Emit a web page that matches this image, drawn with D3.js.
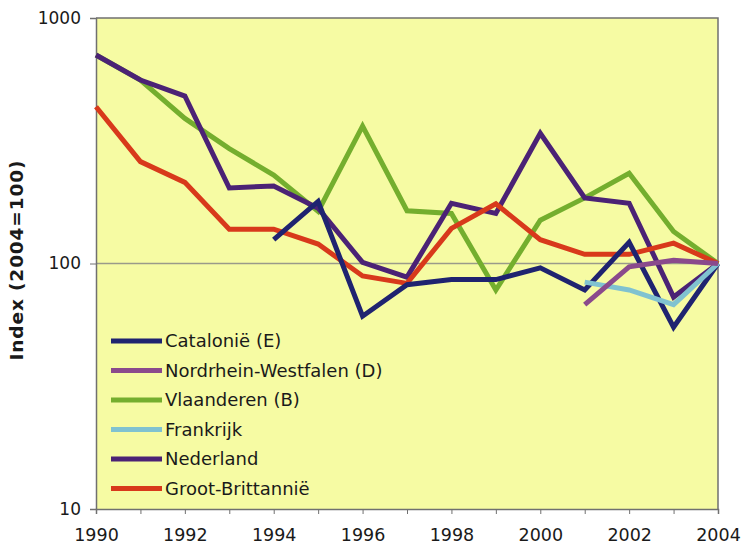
<!DOCTYPE html>
<html><head><meta charset="utf-8">
<script src="https://cdn.jsdelivr.net/npm/d3@7"></script>
<style>body{margin:0;background:#fff}svg{display:block}text{font-family:"DejaVu Sans",Verdana,sans-serif;fill:#1a1a1a}</style>
</head><body><svg id="c" width="747" height="545"></svg>
<script>
const years = [1990,1991,1992,1993,1994,1995,1996,1997,1998,1999,2000,2001,2002,2003,2004];
const xTickLabels = [1990,1992,1994,1996,1998,2000,2002,2004];
const yTickValues = [10,100,1000];
const catalonie = [null,null,null,null,125,179,61,82,86,86,96,78,122,55,100];
const nrw = [null,null,null,null,null,null,null,null,null,null,null,68,97,103,100];
const vlaanderen = [707,559,390,294,229,163,363,164,160,78,150,185,233,135,100];
const frankrijk = [null,null,null,null,null,null,null,null,null,null,null,84,78,68,100];
const nederland = [707,559,481,203,207,168,101,88,176,160,339,185,176,73,100];
const grootBrittannie = [435,260,214,138,138,120,89,83,139,175,125,109,109,121,100];
const seriesNames = ["Catalonië (E)","Nordrhein-Westfalen (D)","Vlaanderen (B)","Frankrijk","Nederland","Groot-Brittannië"];
const seriesColors = ["#1f2370","#8a4a8c","#74ae2e","#80c2d0","#4b2275","#d8391b"];
const seriesData = [catalonie,nrw,vlaanderen,frankrijk,nederland,grootBrittannie];
const drawOrder = [2,4,5,0,3,1];

const svg = d3.select("#c");
const L=96,R=718,T=18,B=509;
const x = d3.scaleLinear().domain([1990,2004]).range([L,R]);
const y = d3.scaleLog().domain([10,1000]).range([B,T]);

svg.append("rect").attr("x",L).attr("y",T).attr("width",R-L).attr("height",B-T).attr("fill","#f6fba3");
svg.append("line").attr("x1",L).attr("x2",R).attr("y1",y(100)).attr("y2",y(100)).attr("stroke","#9a9a8a").attr("stroke-width",1.5);
svg.append("path").attr("d",`M${L},${T}H${R}V${B}`).attr("fill","none").attr("stroke","#707070").attr("stroke-width",1.5);

const xAxis = d3.axisBottom(x).tickValues(years).tickSize(5).tickFormat(d=>xTickLabels.includes(d)?d:"");
const gx = svg.append("g").attr("transform",`translate(0,${B})`).call(xAxis);
gx.select(".domain").attr("stroke","#707070").attr("stroke-width",1.5);
gx.selectAll(".tick line").attr("stroke","#707070");
gx.selectAll("text").attr("font-size",17.5).attr("y",20).attr("dy","0.71em").attr("fill","#1a1a1a").style("font-family","DejaVu Sans, Verdana, sans-serif");

const yAxis = d3.axisLeft(y).tickValues(yTickValues).tickSize(6).tickFormat(d3.format("d"));
const gy = svg.append("g").attr("transform",`translate(${L},0)`).call(yAxis);
gy.select(".domain").attr("stroke","#707070").attr("stroke-width",1.5);
gy.selectAll(".tick line").attr("stroke","#707070");
gy.selectAll("text").attr("font-size",17).attr("x",-15).attr("fill","#1a1a1a").style("font-family","DejaVu Sans, Verdana, sans-serif");

svg.append("text").attr("transform",`translate(23,${(T+B)/2 - 3}) rotate(-90)`).attr("text-anchor","middle")
  .attr("font-size",18.5).attr("font-weight","bold").attr("textLength",200).attr("lengthAdjust","spacing").text("Index (2004=100)");

const line = d3.line().defined(d=>d.v!=null).x(d=>x(d.yr)).y(d=>y(d.v));
drawOrder.forEach(i=>{
  const pts = years.map((yr,k)=>({yr,v:seriesData[i][k]}));
  svg.append("path").attr("d",line(pts)).attr("fill","none").attr("stroke",seriesColors[i])
    .attr("stroke-width",5).attr("stroke-linejoin","miter").attr("stroke-linecap","butt");
});

const lg = svg.append("g");
seriesNames.forEach((n,i)=>{
  const yy = 341 + i*29.5;
  lg.append("line").attr("x1",111).attr("x2",162).attr("y1",yy).attr("y2",yy).attr("stroke",seriesColors[i]).attr("stroke-width",5);
  lg.append("text").attr("x",165).attr("y",yy).attr("dy","0.36em").attr("font-size",18).text(n);
});
</script></body></html>
